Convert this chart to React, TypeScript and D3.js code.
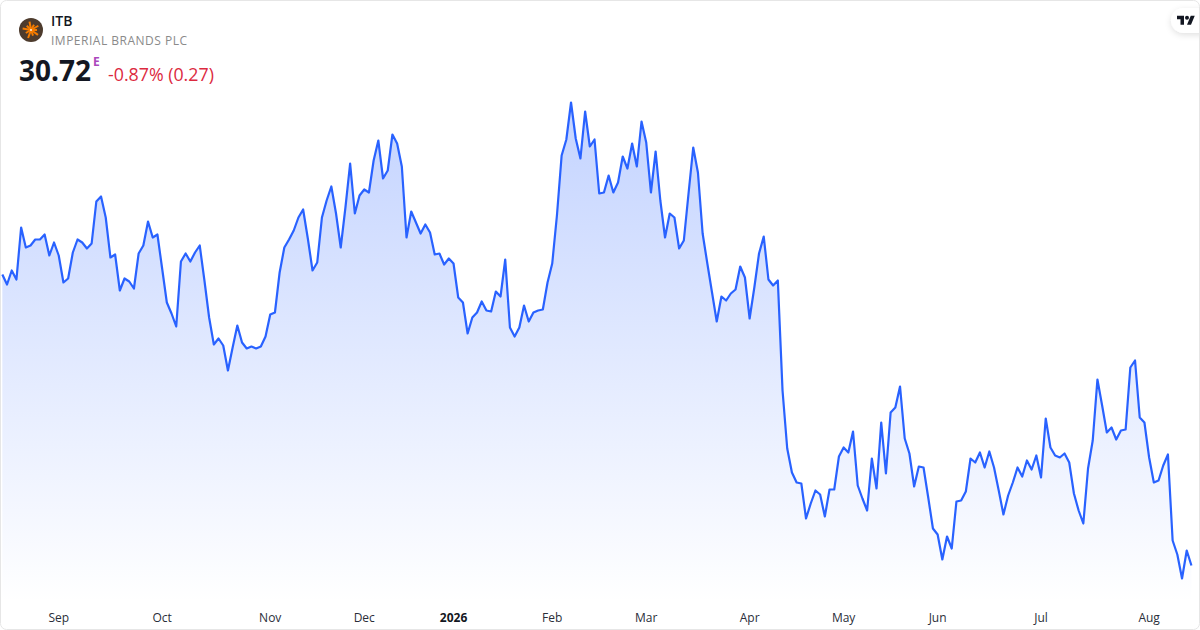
import { useEffect, useRef } from 'react';
import * as d3 from 'd3';

const symbol = 'ITB';
const companyName = 'IMPERIAL BRANDS PLC';
const lastPrice = '30.72';
const changeText = '-0.87% (0.27)';

// daily closes
const closes = [
  33.63, 33.53, 33.67, 33.58, 34.10, 33.90, 33.92, 33.98, 33.98, 34.03,
  33.82, 33.95, 33.82, 33.55, 33.59, 33.85, 33.98, 33.95, 33.89, 33.94,
  34.36, 34.41, 34.20, 33.80, 33.83, 33.47, 33.59, 33.56, 33.49, 33.84,
  33.92, 34.16, 34.00, 34.03, 33.69, 33.35, 33.24, 33.11, 33.76, 33.84,
  33.76, 33.85, 33.92, 33.57, 33.20, 32.93, 32.99, 32.92, 32.67, 32.90,
  33.12, 32.95, 32.89, 32.91, 32.89, 32.91, 33.01, 33.23, 33.25, 33.65,
  33.90, 33.98, 34.07, 34.20, 34.28, 33.99, 33.67, 33.75, 34.20, 34.37,
  34.51, 34.24, 33.90, 34.30, 34.74, 34.24, 34.42, 34.48, 34.45, 34.77,
  34.97, 34.59, 34.67, 35.03, 34.94, 34.71, 34.00, 34.26, 34.15, 34.04,
  34.13, 34.05, 33.83, 33.84, 33.73, 33.79, 33.74, 33.40, 33.35, 33.04,
  33.20, 33.25, 33.36, 33.27, 33.26, 33.46, 33.41, 33.78, 33.10, 33.01,
  33.10, 33.32, 33.16, 33.25, 33.27, 33.28, 33.55, 33.74, 34.22, 34.82,
  34.98, 35.35, 34.99, 34.79, 35.26, 34.91, 34.98, 34.44, 34.45, 34.62,
  34.45, 34.55, 34.81, 34.69, 34.94, 34.71, 35.16, 34.95, 34.45, 34.86,
  34.37, 34.00, 34.24, 34.20, 33.89, 33.97, 34.44, 34.90, 34.65, 34.04,
  33.74, 33.45, 33.16, 33.41, 33.37, 33.44, 33.48, 33.71, 33.60, 33.19,
  33.50, 33.84, 34.01, 33.58, 33.52, 33.57, 32.47, 31.89, 31.65, 31.55,
  31.54, 31.19, 31.34, 31.47, 31.43, 31.21, 31.48, 31.48, 31.81, 31.90,
  31.85, 32.06, 31.52, 31.39, 31.27, 31.79, 31.49, 32.15, 31.64, 32.25,
  32.30, 32.51, 31.99, 31.84, 31.51, 31.71, 31.70, 31.40, 31.09, 31.03,
  30.78, 31.01, 30.89, 31.36, 31.37, 31.46, 31.79, 31.75, 31.85, 31.70,
  31.86, 31.70, 31.47, 31.23, 31.42, 31.55, 31.70, 31.61, 31.77, 31.68,
  31.82, 31.60, 32.19, 31.90, 31.82, 31.80, 31.84, 31.75, 31.44, 31.27,
  31.14, 31.69, 31.97, 32.58, 32.32, 32.05, 32.10, 31.98, 32.07, 32.08,
  32.70, 32.77, 32.20, 32.15, 31.80, 31.55, 31.57, 31.72, 31.83, 30.97,
  30.83, 30.59, 30.87, 30.72,
];

// month labels and the bar index each one sits on
const tickLabels = ['Sep', 'Oct', 'Nov', 'Dec', '2026', 'Feb', 'Mar', 'Apr', 'May', 'Jun', 'Jul', 'Aug'];
const tickBars = [12, 34, 57, 77, 96, 117, 137, 159, 179, 199, 221, 244];

const logoRays = [0, 35, 70, 110, 150, 190, 225, 260, 300, 330];

const FONT = '"Open Sans", sans-serif';
const WIDTH = 1200;
const HEIGHT = 630;

const App = () => {
  const svgRef = useRef<SVGSVGElement>(null);

  useEffect(() => {
    if (!svgRef.current) return;
    d3.select(svgRef.current).selectAll('*').remove();

    const svg = d3.select(svgRef.current);

    const x = d3.scaleLinear().domain([0, closes.length - 1]).range([2.33, 1191.43]);
    const y = d3.scaleLinear().domain([30.37, 36.37]).range([600.5, 0.5]);

    const defs = svg.append('defs');
    const grad = defs.append('linearGradient')
      .attr('id', 'areaFill')
      .attr('gradientUnits', 'userSpaceOnUse')
      .attr('x1', 0).attr('x2', 0)
      .attr('y1', y(d3.max(closes) as number))
      .attr('y2', HEIGHT - 28);
    grad.append('stop').attr('offset', 0).attr('stop-color', '#2962ff').attr('stop-opacity', 0.28);
    grad.append('stop').attr('offset', 1).attr('stop-color', '#2962ff').attr('stop-opacity', 0);

    const shadow = defs.append('filter').attr('id', 'pillShadow')
      .attr('x', '-50%').attr('y', '-50%').attr('width', '200%').attr('height', '200%');
    shadow.append('feDropShadow')
      .attr('dx', 0).attr('dy', 2).attr('stdDeviation', 3)
      .attr('flood-color', '#000').attr('flood-opacity', 0.12);

    svg.append('rect')
      .attr('width', WIDTH).attr('height', HEIGHT).attr('fill', '#fff');

    const area = d3.area<number>()
      .x((_, i) => x(i))
      .y0(HEIGHT - 28)
      .y1(d => y(d));
    const line = d3.line<number>()
      .x((_, i) => x(i))
      .y(d => y(d));

    svg.append('path').attr('d', area(closes)).attr('fill', 'url(#areaFill)');
    svg.append('path').attr('d', line(closes))
      .attr('fill', 'none')
      .attr('stroke', '#2962ff')
      .attr('stroke-width', 2.2)
      .attr('stroke-linejoin', 'round');

    // month axis
    svg.append('g').selectAll('text')
      .data(tickLabels)
      .enter()
      .append('text')
      .attr('x', (_, i) => x(tickBars[i]))
      .attr('y', 622)
      .attr('text-anchor', 'middle')
      .attr('font-family', FONT)
      .attr('font-size', 12)
      .attr('font-weight', d => (d === '2026' ? 700 : 400))
      .attr('fill', d => (d === '2026' ? '#131722' : '#2a2e39'))
      .text(d => d);

    // header
    const logo = svg.append('g').attr('transform', 'translate(31,30)');
    logo.append('circle').attr('r', 12).attr('fill', '#4d3b2d');
    logo.selectAll('line')
      .data(logoRays)
      .enter()
      .append('line')
      .attr('x2', (d, i) => Math.cos(d * Math.PI / 180) * (i % 2 ? 8.5 : 6))
      .attr('y2', (d, i) => Math.sin(d * Math.PI / 180) * (i % 2 ? 8.5 : 6))
      .attr('stroke', '#f57c00')
      .attr('stroke-width', 2);
    logo.append('circle').attr('r', 0.9).attr('fill', '#fff');

    const addText = (tx: number, ty: number, text: string, size: number, weight: number, fill: string) =>
      svg.append('text')
        .attr('x', tx).attr('y', ty)
        .attr('font-family', FONT)
        .attr('font-size', size)
        .attr('font-weight', weight)
        .attr('fill', fill)
        .text(text);

    addText(51, 26, symbol, 14, 600, '#131722');
    addText(51, 45, companyName, 12, 400, '#8a8a8a').attr('letter-spacing', 0.5);
    addText(19, 81, lastPrice, 28, 700, '#131722');
    addText(93, 66, 'E', 12, 700, '#ab47bc');
    addText(108, 81, changeText, 17.8, 400, '#dc2a3f');

    // watermark pill
    svg.append('rect')
      .attr('x', 1171).attr('y', 8)
      .attr('width', 50).attr('height', 25).attr('rx', 12.5)
      .attr('fill', '#fff')
      .attr('filter', 'url(#pillShadow)');
    const mark = svg.append('g').attr('transform', 'translate(1177,13.7) scale(0.5)');
    mark.append('path')
      .attr('d', 'M14 22H7V11H0V4h14v18zM28 22h-8l7.5-18h8L28 22z')
      .attr('fill', '#131722');
    mark.append('circle').attr('cx', 20).attr('cy', 8).attr('r', 4).attr('fill', '#131722');

    // card border, drawn last so the pill sits inside it
    svg.append('rect')
      .attr('x', 0.5).attr('y', 0.5)
      .attr('width', WIDTH - 1).attr('height', HEIGHT - 1)
      .attr('rx', 6)
      .attr('fill', 'none')
      .attr('stroke', '#e6e6e6');
  }, []);

  return (
    <svg
      ref={svgRef}
      width={WIDTH}
      height={HEIGHT}
      style={{ position: 'absolute', left: 0, top: 0, display: 'block' }}
    />
  );
};

export default App;
